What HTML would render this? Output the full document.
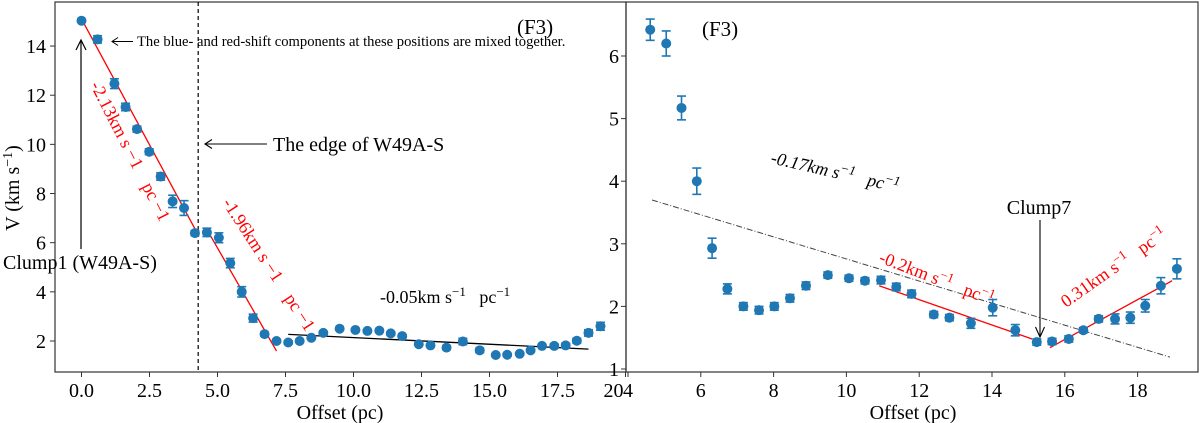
<!DOCTYPE html>
<html><head><meta charset="utf-8">
<style>
html,body{margin:0;padding:0;background:#fff;}
svg{display:block;font-family:"Liberation Serif",serif;}
.pre{white-space:pre;}
</style></head>
<body>
<svg id="chart" width="1200" height="423" viewBox="0 0 1200 423" xmlns="http://www.w3.org/2000/svg"></svg>
<script>
const offsets = [0.0,0.59,1.21,1.62,2.04,2.49,2.91,3.35,3.77,4.17,4.61,5.05,5.47,5.89,6.31,6.73,7.17,7.60,8.02,8.45,8.89,9.49,10.07,10.51,10.95,11.37,11.79,12.40,12.83,13.42,14.02,14.64,15.23,15.65,16.11,16.51,16.93,17.38,17.80,18.21,18.64,19.08];
const velocities = [15.03,14.27,12.47,11.52,10.62,9.70,8.69,7.68,7.41,6.39,6.42,6.20,5.17,4.00,2.93,2.28,2.00,1.94,2.00,2.13,2.33,2.50,2.45,2.41,2.42,2.31,2.20,1.87,1.82,1.73,1.98,1.62,1.43,1.44,1.48,1.62,1.80,1.80,1.82,2.01,2.33,2.60];
const errors = [0.05,0.15,0.2,0.15,0.12,0.12,0.15,0.25,0.3,0.1,0.17,0.2,0.19,0.21,0.16,0.08,0.06,0.06,0.06,0.06,0.06,0.05,0.05,0.05,0.06,0.06,0.06,0.05,0.05,0.08,0.13,0.09,0.05,0.05,0.05,0.04,0.05,0.08,0.09,0.1,0.13,0.16];
const leftXTicks = [0,2.5,5,7.5,10,12.5,15,17.5,20];
const leftXTickLabels = ["0.0","2.5","5.0","7.5","10.0","12.5","15.0","17.5","20"];
const leftYTicks = [2,4,6,8,10,12,14];
const rightXTicks = [4,6,8,10,12,14,16,18];
const rightYTicks = [1,2,3,4,5,6];
const rightMinOffset = 4.5;
const leftFit1 = [0.05,15.0,4.3,6.3];
const leftFit2 = [4.61,6.54,7.17,1.59];
const leftFit3 = [7.60,2.27,18.64,1.67];
const rightFitDash = [4.66,3.70,18.89,1.19];
const rightFit1 = [10.9,2.33,15.10,1.48];
const rightFit2 = [15.59,1.34,18.95,2.41];
const edgeOffset = 4.29;

const svg = document.getElementById('chart');
const NS = 'http://www.w3.org/2000/svg';
function mk(tag, attrs, parent, text){
  const e = document.createElementNS(NS, tag);
  for (const k in attrs) e.setAttribute(k, attrs[k]);
  if (text !== undefined) e.textContent = text;
  (parent||svg).appendChild(e);
  return e;
}
const lx = v => 81.5 + v*27.2;
const ly = v => 341 - (v-2)*24.58;
const rx = v => 628 + (v-4)*36.4;
const ry = v => 369 - (v-1)*62.6;
const TF = 20;

// ---------- LEFT PANEL ----------
const L = mk('g', {});


const lframe = mk('rect', {x:55, y:2, width:571, height:370, fill:'none', stroke:'#333', 'stroke-width':1.2}, L);


leftXTicks.forEach((t,i)=>{
  const x = lx(t);
  const tk = mk('line',{x1:x,x2:x,y1:372,y2:377,stroke:'#333'},L);
  
  
  const lb = mk('text',{x:x - (i===8?12:0),y:397,'font-size':TF,'text-anchor':'middle'},L,leftXTickLabels[i]);
  
  
});
leftYTicks.forEach(t=>{
  const y = ly(t);
  const tk = mk('line',{x1:50,x2:55,y1:y,y2:y,stroke:'#333'},L);
  
  
  const lb = mk('text',{x:46,y:y+7,'font-size':TF,'text-anchor':'end'},L,String(t));
  
  
});
const lxt = mk('text',{x:340,y:419,'font-size':TF,'text-anchor':'middle'},L,'Offset (pc)');


const lyt = mk('text',{x:0,y:0,'font-size':TF,'text-anchor':'middle',transform:'translate(19,188) rotate(-90)'},L);


lyt.innerHTML = 'V (km s<tspan dy="-7" font-size="14">−1</tspan><tspan dy="7">)</tspan>';

const ed = mk('line',{x1:lx(edgeOffset),x2:lx(edgeOffset),y1:2,y2:372,stroke:'#000','stroke-width':1.2,'stroke-dasharray':'4,3'},L);



function fitLine(g, f, sx, sy, color, name, extra){
  const a = {x1:sx(f[0]),y1:sy(f[1]),x2:sx(f[2]),y2:sy(f[3]),stroke:color,'stroke-width':1.3};
  Object.assign(a, extra||{});
  const l = mk('line',a,g);
  
  
}
fitLine(L,leftFit1,lx,ly,'#ff0000','fit-line-1');
fitLine(L,leftFit2,lx,ly,'#ff0000','fit-line-2');
fitLine(L,leftFit3,lx,ly,'#000','fit-line-3');

function drawPoints(g, sx, sy, filter, name){
  offsets.forEach((o,i)=>{
    if (!filter(o)) return;
    const x = sx(o), y = sy(velocities[i]);
    const y1 = sy(velocities[i]+errors[i]), y2 = sy(velocities[i]-errors[i]);
    const pg = mk('g',{},g);
    
    
    mk('line',{x1:x,x2:x,y1:y1,y2:y2,stroke:'#1f77b4','stroke-width':1.6},pg);
    mk('line',{x1:x-4.5,x2:x+4.5,y1:y1,y2:y1,stroke:'#1f77b4','stroke-width':1.6},pg);
    mk('line',{x1:x-4.5,x2:x+4.5,y1:y2,y2:y2,stroke:'#1f77b4','stroke-width':1.6},pg);
    mk('circle',{cx:x,cy:y,r:5,fill:'#1f77b4'},pg);
  });
}
drawPoints(L, lx, ly, o=>true, 'left-data-point');

const a1 = mk('g',{},L);


mk('line',{x1:81,x2:81,y1:249,y2:41,stroke:'#000','stroke-width':1.2},a1);
mk('path',{d:'M76,50 L81,40 L86,50',fill:'none',stroke:'#000','stroke-width':1.2},a1);
mk('text',{x:3,y:269,'font-size':20},a1,'Clump1 (W49A-S)');

const a2 = mk('g',{},L);


mk('line',{x1:112,x2:133,y1:41.5,y2:41.5,stroke:'#000','stroke-width':1},a2);
mk('path',{d:'M118,37.5 L112,41.5 L118,45.5',fill:'none',stroke:'#000','stroke-width':1},a2);
mk('text',{x:137,y:46,'font-size':14.6},a2,'The blue- and red-shift components at these positions are mixed together.');

const a3 = mk('g',{},L);


mk('line',{x1:205,x2:267,y1:144,y2:144,stroke:'#000','stroke-width':1.1},a3);
mk('path',{d:'M212,139.5 L205,144 L212,148.5',fill:'none',stroke:'#000','stroke-width':1.1},a3);
mk('text',{x:273,y:151,'font-size':20},a3,'The edge of W49A-S');

const f3l = mk('text',{x:517,y:34,'font-size':21},L,'(F3)');



const s1 = mk('text',{x:0,y:0,'font-size':18,fill:'#ff0000',class:'pre',transform:'translate(90,85) rotate(63)'},L);


s1.textContent = '-2.13km s −1    pc −1';
const s2 = mk('text',{x:0,y:0,'font-size':18,fill:'#ff0000',class:'pre',transform:'translate(222,203) rotate(57)'},L);


s2.textContent = '-1.96km s −1    pc −1';
const s3 = mk('text',{x:380,y:303,'font-size':18,class:'pre'},L);


s3.innerHTML = '-0.05km s<tspan dy="-7" font-size="13">−1</tspan><tspan dy="7">   pc</tspan><tspan dy="-7" font-size="13">−1</tspan>';

// ---------- RIGHT PANEL ----------
const R = mk('g',{});


const rframe = mk('rect',{x:626,y:2,width:572,height:370,fill:'none',stroke:'#333','stroke-width':1.2},R);


rightXTicks.forEach(t=>{
  const x = rx(t);
  const tk = mk('line',{x1:x,x2:x,y1:372,y2:377,stroke:'#333'},R);
  
  
  const lb = mk('text',{x:x,y:397,'font-size':TF,'text-anchor':'middle'},R,String(t));
  
  
});
rightYTicks.forEach(t=>{
  const y = ry(t);
  const tk = mk('line',{x1:621,x2:626,y1:y,y2:y,stroke:'#333'},R);
  
  
  const lb = mk('text',{x:619,y:y+7,'font-size':TF,'text-anchor':'end'},R,String(t));
  
  
});
const rxt = mk('text',{x:913,y:419,'font-size':TF,'text-anchor':'middle'},R,'Offset (pc)');



fitLine(R,rightFitDash,rx,ry,'#444','fit-line-dashdot',{'stroke-dasharray':'6,2,1,2','stroke-width':1});
fitLine(R,rightFit1,rx,ry,'#ff0000','fit-line-right-1');
fitLine(R,rightFit2,rx,ry,'#ff0000','fit-line-right-2');
drawPoints(R, rx, ry, o=>o>=rightMinOffset, 'right-data-point');

const f3r = mk('text',{x:702,y:36,'font-size':21},R,'(F3)');



const c7 = mk('g',{},R);


mk('text',{x:1039,y:214,'font-size':20,'text-anchor':'middle'},c7,'Clump7');
mk('line',{x1:1040,x2:1040,y1:220,y2:336,stroke:'#000','stroke-width':1.1},c7);
mk('path',{d:'M1035.5,327 L1040,337 L1044.5,327',fill:'none',stroke:'#000','stroke-width':1.1},c7);

const s4 = mk('text',{x:0,y:0,'font-size':18,'font-style':'italic',class:'pre',transform:'translate(770,163) rotate(13)'},R);


s4.innerHTML = '-0.17km s<tspan dy="-7" font-size="13">−1</tspan><tspan dy="7">   pc</tspan><tspan dy="-7" font-size="13">−1</tspan>';
const s5 = mk('text',{x:0,y:0,'font-size':18,fill:'#ff0000',class:'pre',transform:'translate(878,262) rotate(21)'},R);


s5.innerHTML = '-0.2km s<tspan dy="-7" font-size="13">−1</tspan><tspan dy="7">   pc</tspan><tspan dy="-7" font-size="13">−1</tspan>';
const s6 = mk('text',{x:0,y:0,'font-size':18,fill:'#ff0000',class:'pre',transform:'translate(1066,308) rotate(-35)'},R);


s6.innerHTML = '0.31km s<tspan dy="-7" font-size="13">−1</tspan><tspan dy="7">   pc</tspan><tspan dy="-7" font-size="13">−1</tspan>';
</script>
</body></html>
